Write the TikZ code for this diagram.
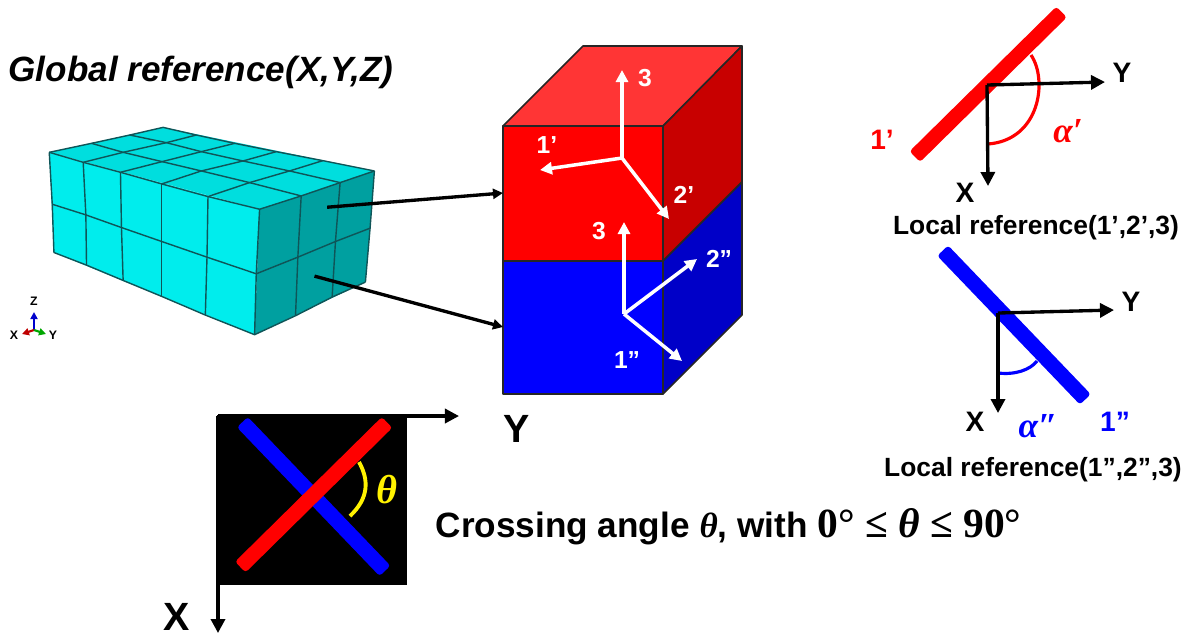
\documentclass[tikz,border=0pt]{standalone}
\usepackage{fontspec}
\setmainfont{Liberation Sans}
\newfontfamily\greekfont{Liberation Serif}
\usepackage{tikz}
\usetikzlibrary{arrows.meta,positioning}
\definecolor{meshfront}{HTML}{00EDED}
\definecolor{meshtop}{HTML}{00DEDE}
\definecolor{meshside}{HTML}{00A0A0}
\definecolor{meshline}{HTML}{0F5558}
\definecolor{redtop}{HTML}{FF3535}
\definecolor{redside}{HTML}{C80000}
\definecolor{blueside}{HTML}{0000C8}
\begin{document}
\begin{tikzpicture}[
  x=0.01cm, y=-0.01cm,
  mesh/.style={draw=meshline, line width=0.4pt, line join=round},
  face/.style={draw=black!85, line width=0.45pt, line join=round},
  arrow/.style={-{Triangle[length=1.4mm,width=1.4mm]}, line width=0.95pt, black},
  leader/.style={-{Triangle[length=1mm,width=1mm]}, line width=0.95pt, black},
  whitearrow/.style={-{Triangle[length=1.2mm,width=1.2mm]}, line width=1pt, white},
  bar/.style={rectangle, rounded corners=0.9pt, minimum width=2.06cm, minimum height=0.15cm, inner sep=0pt},
  whitelabel/.style={text=white, font=\fontsize{7}{8}\selectfont\bfseries, inner sep=0pt},
  axislabel/.style={font=\fontsize{8}{9}\selectfont\bfseries, inner sep=0pt},
  biglabel/.style={font=\fontsize{11.2}{12}\selectfont\bfseries, inner sep=0pt},
  caption/.style={font=\fontsize{7.5}{9}\selectfont\bfseries, inner sep=0pt},
  anglelabel/.style={font=\fontsize{10}{11}\selectfont\greekfont\bfseries\itshape, inner sep=0pt},
  triad/.style={font=\fontsize{3.5}{4}\selectfont\bfseries, inner sep=0pt},
  triadarrow/.style={-{Triangle[length=0.7mm,width=0.7mm]}, line width=0.6pt}
]
\useasboundingbox (0,0) rectangle (1191,635);

\node[font=\fontsize{9.97}{11}\selectfont\bfseries\itshape, inner sep=0pt, anchor=west] (title) at (8,72) {Global reference(X,Y,Z)};

% meshed block
\begin{scope}[yshift=-1cm, x=0.003333cm, y=-0.003333cm]
\fill[meshfront] (148,157) -- (780,328) -- (765,705) -- (162,458) -- cycle;
\fill[meshtop] (148,157) -- (490,82) -- (1125,213) -- (780,328) -- cycle;
\fill[meshside] (780,328) -- (1125,213) -- (1098,547) -- (765,705) -- cycle;
\draw[mesh] (148,157) -- (250,187) -- (362,217) -- (486,252) -- (625,290) -- (780,328) -- (905,288) -- (1022,248) -- (1125,213);
\draw[mesh] (157,313) -- (258,345) -- (365,383) -- (486,425) -- (622,472) -- (770,522) -- (895,472) -- (1008,425) -- (1112,385);
\draw[mesh] (162,458) -- (260,496) -- (370,542) -- (486,590) -- (617,646) -- (765,705) -- (888,648) -- (998,592) -- (1098,547);
\draw[mesh] (148,157) -- (157,313) -- (162,458);
\draw[mesh] (250,187) -- (258,345) -- (260,496);
\draw[mesh] (362,217) -- (365,383) -- (370,542);
\draw[mesh] (486,252) -- (486,425) -- (486,590);
\draw[mesh] (625,290) -- (622,472) -- (617,646);
\draw[mesh] (780,328) -- (770,522) -- (765,705);
\draw[mesh] (905,288) -- (895,472) -- (888,648);
\draw[mesh] (1022,248) -- (1008,425) -- (998,592);
\draw[mesh] (1125,213) -- (1112,385) -- (1098,547);
% top face
\draw[mesh] (148,157) -- (275,130) -- (390,105) -- (490,82) -- (590,105) -- (705,130) -- (830,155) -- (970,182) -- (1125,213);
\draw[mesh] (275,130) -- (370,157) -- (487,185) -- (605,213) -- (750,248) -- (905,288);
\draw[mesh] (390,105) -- (500,128) -- (605,155) -- (730,183) -- (870,213) -- (1022,248);
\draw[mesh] (250,187) -- (370,157) -- (500,128) -- (590,105);
\draw[mesh] (362,217) -- (487,185) -- (605,155) -- (705,130);
\draw[mesh] (486,252) -- (605,213) -- (730,183) -- (830,155);
\draw[mesh] (625,290) -- (750,248) -- (870,213) -- (970,182);
\coordinate (meshup) at (983,322);
\coordinate (meshdown) at (945,529);
\end{scope}

% small triad
\coordinate (tri) at (34,330);
\coordinate (trix) at (22,334);
\coordinate (triy) at (46,334);
\coordinate (triz) at (34,312);
\draw[triadarrow, blue!80!black] (tri) -- (triz);
\draw[triadarrow, red!75!black] (tri) -- (trix);
\draw[triadarrow, green!65!black] (tri) -- (triy);
\node[triad] (zlab) at (34,301) {Z};
\node[triad] (xlab) at (14,335) {X};
\node[triad] (ylab) at (53,335) {Y};

% layered cuboid
\filldraw[face, fill=redtop] (503,126) -- (583,46) -- (742,46) -- (663,126) -- cycle;
\filldraw[face, fill=redside] (663,126) -- (742,46) -- (742,182) -- (663,261) -- cycle;
\filldraw[face, fill=blueside] (663,261) -- (742,182) -- (742,315) -- (663,394) -- cycle;
\filldraw[face, fill=red] (503,126) rectangle (663,261);
\filldraw[face, fill=blue] (503,261) rectangle (663,394);
\coordinate (redin) at (503,193);
\coordinate (bluein) at (503,327);
\draw[leader] (meshup) -- (redin);
\draw[leader] (meshdown) -- (bluein);

\coordinate (oa) at (622,158);
\coordinate (oa3) at (622,70);
\coordinate (oa1) at (540,170);
\coordinate (oa2) at (669,219);
\coordinate (ob) at (624,314);
\coordinate (ob3) at (624,222);
\coordinate (ob2) at (697,259);
\coordinate (ob1) at (682,361);
\draw[whitearrow] (oa) -- (oa3);
\draw[whitearrow] (oa) -- (oa1);
\draw[whitearrow] (oa) -- (oa2);
\draw[whitearrow] (ob) -- (ob3);
\draw[whitearrow] (ob) -- (ob2);
\draw[whitearrow] (ob) -- (ob1);
\node[whitelabel] (la3) at (645,78) {3};
\node[whitelabel] (la1) at (547,145) {1’};
\node[whitelabel] (la2) at (684,195) {2’};
\node[whitelabel] (lb3) at (599,231) {3};
\node[whitelabel] (lb2) at (719,259) {2”};
\node[whitelabel] (lb1) at (627,360) {1”};

% local reference, red
\node[bar, fill=red, rotate=44.6] (rbar) at (988.2,84.3) {};
\coordinate (ro) at (987,85);
\coordinate (ry) at (1105,82);
\coordinate (rx) at (988,186);
\draw[red, line width=0.9pt] (1031,55) .. controls (1048,80) and (1040,140) .. (988,144);
\draw[arrow] (ro) -- (ry);
\draw[arrow] (ro) -- (rx);
\node[axislabel] (ryl) at (1122,73) {Y};
\node[axislabel] (rxl) at (965,193) {X};
\node[axislabel, text=red] (rone) at (882,140) {1’};
\node[anglelabel, text=red] (ralpha) at (1068,131) {α′};
\node[caption] (rcap) at (1036,228) {Local reference(1’,2’,3)};

% local reference, blue
\node[bar, fill=blue, rotate=-46.2] (bbar) at (1014,325) {};
\coordinate (bo) at (998,313);
\coordinate (by) at (1114,310);
\coordinate (bx) at (998,413);
\draw[blue, line width=0.9pt] (998,373) .. controls (1015,375) and (1030,370) .. (1037,361);
\draw[arrow] (bo) -- (by);
\draw[arrow] (bo) -- (bx);
\node[axislabel] (byl) at (1131,302) {Y};
\node[axislabel] (bxl) at (975,422) {X};
\node[axislabel, text=blue] (bone) at (1115,422) {1”};
\node[anglelabel, text=blue] (balpha) at (1038,426) {α″};
\node[caption] (bcap) at (1033,470) {Local reference(1”,2”,3)};

% crossing
\fill[black] (217,415) rectangle (407,585);
\coordinate (co) at (218,416);
\coordinate (cy) at (459,416);
\coordinate (cx) at (218,633);
\draw[arrow] (co) -- (cy);
\draw[arrow] (co) -- (cx);
\node[bar, fill=blue, rotate=-46.2] (cblue) at (313.7,496.5) {};
\node[bar, fill=red, rotate=44.6] (cred) at (313.7,494.7) {};
\draw[yellow, line width=1.1pt] (359,462) .. controls (369,480) and (369,498) .. (350,516);
\node[anglelabel, text=yellow, font=\fontsize{11.5}{12}\selectfont\greekfont\bfseries\itshape] (cth) at (387,490) {θ};
\node[biglabel] (cyl) at (517,429) {Y};
\node[biglabel] (cxl) at (177,617) {X};
\node[inner sep=0pt, anchor=west, font=\fontsize{10}{11}\selectfont\bfseries] (cross) at (435,527) {Crossing angle {\greekfont\itshape θ}, with {\greekfont\fontsize{11.8}{12}\selectfont 0° ≤ {\itshape θ} ≤ 90°}};
\end{tikzpicture}
\end{document}
